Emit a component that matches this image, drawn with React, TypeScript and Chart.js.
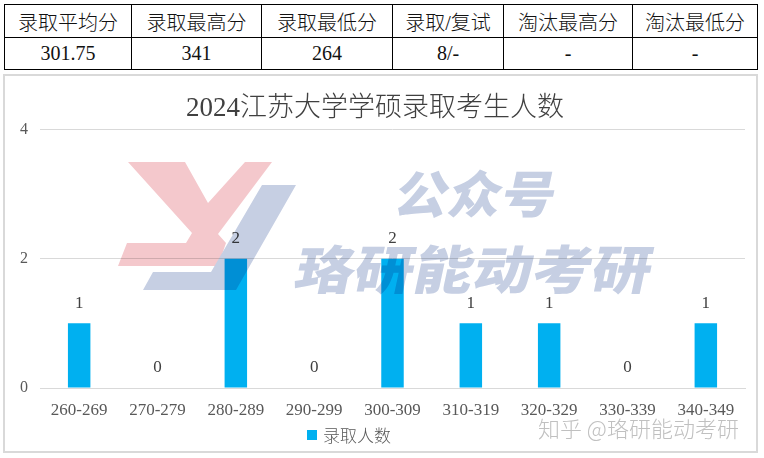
import React, { useEffect, useRef } from 'react';
import { Chart, registerables } from 'chart.js';

Chart.register(...registerables);

const tableHeaders = ['录取平均分', '录取最高分', '录取最低分', '录取/复试', '淘汰最高分', '淘汰最低分'];
const tableValues = ['301.75', '341', '264', '8/-', '-', '-'];
const tableColWidths = [127, 130, 131, 111, 129, 125];

const chartTitle = '2024江苏大学学硕录取考生人数';
const seriesLabel = '录取人数';
const categories = ['260-269', '270-279', '280-289', '290-299', '300-309', '310-319', '320-329', '330-339', '340-349'];
const counts = [1, 0, 2, 0, 2, 1, 1, 0, 1];
const yMin = 0;
const yMax = 4;
const yStep = 2;

const SERIF = '"Liberation Serif", "Times New Roman", "Noto Sans CJK SC", serif';
const SANS = '"Noto Sans CJK SC", "Noto Sans", sans-serif';
const BAR_COLOR = '#00B0F0';

const dataLabelPlugin = {
  id: 'dataLabels',
  afterDatasetsDraw(chart: any) {
    const ctx = chart.ctx;
    const meta = chart.getDatasetMeta(0);
    const data = chart.data.datasets[0].data;
    ctx.save();
    ctx.font = `17px ${SERIF}`;
    ctx.fillStyle = '#404040';
    ctx.textAlign = 'center';
    ctx.textBaseline = 'middle';
    meta.data.forEach((el: any, i: number) => {
      ctx.fillText(String(data[i]), el.x, el.y - 20);
    });
    ctx.restore();
  },
};

function DataTable() {
  const cell: React.CSSProperties = {
    border: '1px solid #000',
    textAlign: 'center',
    fontFamily: SERIF,
    fontSize: 20,
    fontWeight: 300,
    color: '#111',
    padding: 0,
  };
  return (
    <table
      style={{
        position: 'absolute',
        left: 4,
        top: 4,
        width: 753,
        borderCollapse: 'collapse',
        tableLayout: 'fixed',
      }}
    >
      <colgroup>
        {tableColWidths.map((w, i) => (
          <col key={i} style={{ width: w }} />
        ))}
      </colgroup>
      <tbody>
        <tr style={{ height: 33 }}>
          {tableHeaders.map((h, i) => (
            <td key={i} style={cell}>{h}</td>
          ))}
        </tr>
        <tr style={{ height: 32 }}>
          {tableValues.map((v, i) => (
            <td key={i} style={cell}>{v}</td>
          ))}
        </tr>
      </tbody>
    </table>
  );
}

function Watermark() {
  const skew = (cx: number, cy: number) => `translate(${cx},${cy}) skewX(-12) translate(${-cx},${-cy})`;
  return (
    <svg
      width={764}
      height={458}
      style={{ position: 'absolute', left: 0, top: 0, pointerEvents: 'none', mixBlendMode: 'multiply' }}
    >
      <polygon
        points="128,162 185,162 208,203 245,162 272,162 218,234 226,243 218,266 118,266 127,243 186,243 192,233"
        fill="#f4c8cc"
      />
      <polygon points="262,185 296,185 236,290 143,290 153,272 211,272" fill="#c6cfe3" />
      <text
        x={477}
        y={191}
        textAnchor="middle"
        dominantBaseline="central"
        fontFamily={SANS}
        fontWeight={900}
        fontSize={50}
        fill="#c6cfe3"
        textLength={160}
        lengthAdjust="spacingAndGlyphs"
        transform={skew(477, 191)}
      >
        公众号
      </text>
      <text
        x={475}
        y={266}
        textAnchor="middle"
        dominantBaseline="central"
        fontFamily={SANS}
        fontWeight={900}
        fontSize={52}
        fill="#c6cfe3"
        textLength={356}
        lengthAdjust="spacingAndGlyphs"
        transform={skew(475, 266)}
      >
        珞研能动考研
      </text>
    </svg>
  );
}

export default function App() {
  const canvasRef = useRef<HTMLCanvasElement | null>(null);

  useEffect(() => {
    if (!canvasRef.current) return;
    const chart = new Chart(canvasRef.current, {
      type: 'bar',
      data: {
        labels: categories,
        datasets: [
          {
            label: seriesLabel,
            data: counts,
            backgroundColor: BAR_COLOR,
            barPercentage: 0.287,
            categoryPercentage: 1,
          },
        ],
      },
      options: {
        animation: false,
        responsive: false,
        devicePixelRatio: 1,
        layout: { padding: { left: 0, right: 11, top: 0, bottom: 0 } },
        plugins: {
          legend: { display: false },
          tooltip: { enabled: false },
          title: {
            display: true,
            text: chartTitle,
            color: '#404040',
            font: { size: 27, family: SERIF, weight: '300' },
            padding: { top: 17, bottom: 4 },
          },
        },
        scales: {
          x: {
            grid: { display: false, drawTicks: false },
            border: { display: true, color: '#d9d9d9', width: 1 },
            ticks: {
              color: '#595959',
              font: { size: 17, family: SERIF },
              padding: 12,
              maxRotation: 0,
              autoSkip: false,
            },
            afterFit(scale: any) {
              scale.height = 63;
            },
          },
          y: {
            min: yMin,
            max: yMax,
            ticks: {
              stepSize: yStep,
              color: '#595959',
              font: { size: 16, family: SERIF },
              padding: 12,
            },
            grid: { color: '#d9d9d9', drawTicks: false },
            border: { display: false },
            afterFit(scale: any) {
              scale.width = 35;
            },
          },
        },
      },
      plugins: [dataLabelPlugin],
    } as any);
    return () => chart.destroy();
  }, []);

  return (
    <div style={{ position: 'absolute', left: 0, top: 0, width: 764, height: 458, background: '#fff', overflow: 'hidden' }}>
      <DataTable />
      <div
        style={{
          position: 'absolute',
          left: 3,
          top: 74,
          width: 751,
          height: 375,
          border: '2px solid #d9d9d9',
        }}
      >
        <canvas ref={canvasRef} width={751} height={375} style={{ display: 'block', width: 751, height: 375 }} />
      </div>
      <div
        style={{
          position: 'absolute',
          left: 307,
          top: 426,
          height: 18,
          display: 'flex',
          alignItems: 'center',
          fontFamily: SANS,
          fontSize: 17,
          fontWeight: 300,
          color: '#595959',
          lineHeight: '18px',
        }}
      >
        <span style={{ display: 'inline-block', width: 10, height: 10, background: BAR_COLOR, marginRight: 6 }} />
        <span>{seriesLabel}</span>
      </div>
      <Watermark />
      <div
        style={{
          position: 'absolute',
          left: 538,
          top: 413,
          fontFamily: SANS,
          fontSize: 22,
          fontWeight: 300,
          color: '#c0c0c0',
          whiteSpace: 'nowrap',
          lineHeight: '28px',
        }}
      >
        知乎 @珞研能动考研
      </div>
    </div>
  );
}
